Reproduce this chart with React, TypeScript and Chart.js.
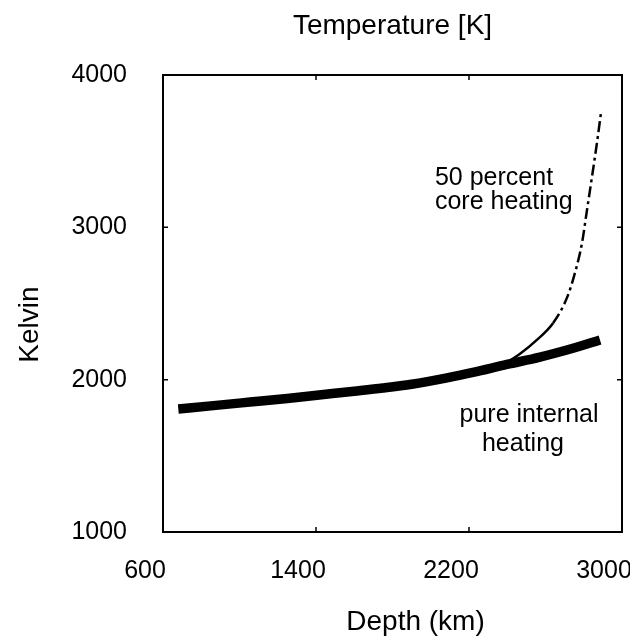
import React, { useEffect, useRef } from "react";
import { Chart, registerables } from "chart.js";
Chart.register(...registerables);

// Pure internal heating curve (depth km, temperature K)
const internalDepth = [680, 850, 1055, 1250, 1405, 1600, 1750, 1900, 2085, 2221, 2398, 2571, 2744, 2885];
const internalTemp = [1808, 1828, 1853, 1877, 1898, 1924, 1945, 1970, 2012, 2048, 2100, 2148, 2206, 2260];
// 50 percent core heating curve
const coreDepth = [2378, 2467, 2555, 2640, 2713, 2754, 2791, 2817, 2843, 2869, 2890];
const coreTemp = [2096, 2170, 2261, 2372, 2540, 2701, 2898, 3114, 3331, 3554, 3751];

const xTicks = [600, 1400, 2200, 3000];
const yTicks = [1000, 2000, 3000, 4000];
const innerXTicks = [1400, 2200];
const innerYTicks = [2000, 3000];

const chartTitle = "Temperature [K]";
const xTitle = "Depth (km)";
const yTitle = "Kelvin";

// text notes anchored in data units
const notes = [
  { text: "50 percent", x: 2022, y: 3278, align: "left" },
  { text: "core heating", x: 2022, y: 3121, align: "left" },
  { text: "pure internal", x: 2514, y: 1722, align: "center" },
  { text: "heating", x: 2482, y: 1532, align: "center" },
];

const FONT = '"Liberation Sans", Arial, Helvetica, sans-serif';

export default function App() {
  const ref = useRef<HTMLCanvasElement>(null);
  useEffect(() => {
    if (!ref.current) return;
    const framePlugin = {
      id: "frame",
      afterDraw(chart: any) {
        const { ctx, chartArea: a, scales } = chart;
        const xs = scales.x, ys = scales.y;
        ctx.save();
        ctx.strokeStyle = "#000";
        ctx.lineWidth = 2;
        ctx.strokeRect(a.left, a.top, a.right - a.left, a.bottom - a.top);
        ctx.lineWidth = 1.5;
        ctx.beginPath();
        for (const v of innerXTicks) {
          const px = xs.getPixelForValue(v);
          ctx.moveTo(px, a.bottom); ctx.lineTo(px, a.bottom - 5);
          ctx.moveTo(px, a.top); ctx.lineTo(px, a.top + 5);
        }
        for (const v of innerYTicks) {
          const py = ys.getPixelForValue(v);
          ctx.moveTo(a.left, py); ctx.lineTo(a.left + 5, py);
          ctx.moveTo(a.right, py); ctx.lineTo(a.right - 5, py);
        }
        ctx.stroke();

        ctx.fillStyle = "#000";
        ctx.textBaseline = "alphabetic";
        ctx.font = `25px ${FONT}`;
        for (const n of notes) {
          ctx.textAlign = n.align as CanvasTextAlign;
          ctx.fillText(n.text, xs.getPixelForValue(n.x), ys.getPixelForValue(n.y));
        }

        ctx.font = `28px ${FONT}`;
        ctx.textAlign = "center";
        ctx.fillText(xTitle, (a.left + a.right) / 2 + 23, 622);
        ctx.translate(30, (a.top + a.bottom) / 2 + 21);
        ctx.rotate(-Math.PI / 2);
        ctx.fillText(yTitle, 0, 0);
        ctx.restore();
      },
    };

    const chart = new Chart(ref.current, {
      type: "line",
      data: {
        datasets: [
          {
            label: "50 percent core heating",
            data: coreDepth.map((x, i) => ({ x, y: coreTemp[i] })),
            borderColor: "#000",
            borderWidth: 2.5,
            pointRadius: 0,
            cubicInterpolationMode: "monotone",
            borderDash: [],
            segment: {
              borderDash: (c: any) => (c.p0.parsed.x >= 2640 ? [11, 4, 3, 4] : undefined),
            },
          },
          {
            label: "pure internal heating",
            data: internalDepth.map((x, i) => ({ x, y: internalTemp[i] })),
            borderColor: "#000",
            borderWidth: 9.5,
            pointRadius: 0,
            cubicInterpolationMode: "monotone",
          },
        ],
      },
      options: {
        animation: false,
        responsive: true,
        maintainAspectRatio: false,
        layout: { padding: { left: 0, right: 8, top: 0, bottom: 0 } },
        plugins: {
          legend: { display: false },
          tooltip: { enabled: false },
          title: {
            display: true,
            text: chartTitle,
            color: "#000",
            fullSize: false,
            font: { family: FONT, size: 28, weight: "normal", lineHeight: 1.2 },
            padding: { top: 1, bottom: 32.4 },
          },
        },
        scales: {
          x: {
            type: "linear",
            min: 600,
            max: 3000,
            grid: { display: false, drawTicks: false },
            border: { display: false },
            afterBuildTicks: (s: any) => { s.ticks = xTicks.map((v) => ({ value: v })); },
            afterFit: (s: any) => { s.height = 110; s.paddingLeft = 0; s.paddingRight = 0; },
            ticks: {
              color: "#000",
              font: { family: FONT, size: 25 },
              padding: 24,
              labelOffset: -18,
              maxRotation: 0,
              autoSkip: false,
              callback: (v: any) => String(v),
            },
          },
          y: {
            type: "linear",
            min: 1000,
            max: 4000,
            grid: { display: false, drawTicks: false },
            border: { display: false },
            afterBuildTicks: (s: any) => { s.ticks = yTicks.map((v) => ({ value: v })); },
            afterFit: (s: any) => { s.width = 155; s.paddingTop = 0; s.paddingBottom = 0; },
            ticks: {
              color: "#000",
              font: { family: FONT, size: 25 },
              padding: 36,
              autoSkip: false,
              callback: (v: any) => String(v),
            },
          },
        },
      } as any,
      plugins: [framePlugin],
    });
    return () => chart.destroy();
  }, []);

  return (
    <div style={{ position: "relative", width: 622, height: 634 }}>
      <canvas ref={ref} />
    </div>
  );
}
